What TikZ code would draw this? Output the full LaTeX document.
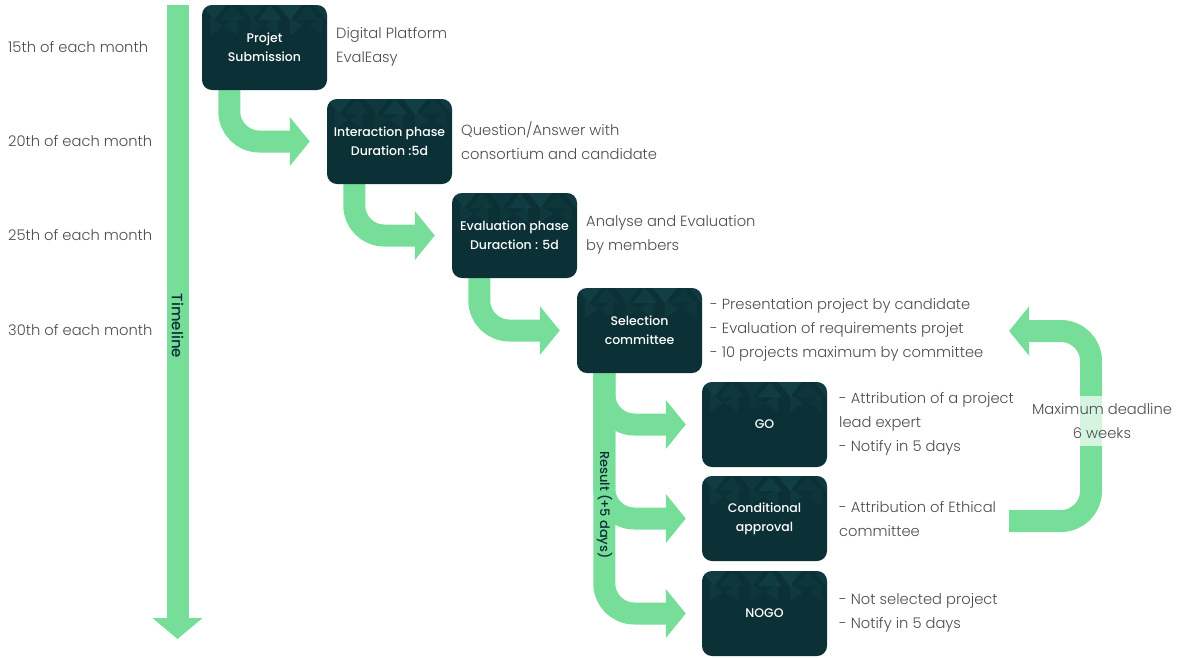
\documentclass[tikz,border=0pt]{standalone}
\usepackage{fontspec}
\setmainfont{Poppins}
\newfontfamily\lightfont{Poppins Light}
\newfontfamily\medfont{Poppins Medium}
\usetikzlibrary{arrows.meta,calc}
\definecolor{mint}{HTML}{77DE99}
\definecolor{deep}{HTML}{0B3136}
\definecolor{facet}{HTML}{1D5459}
\definecolor{note}{HTML}{4D4D4D}
\pgfdeclarelayer{bg}
\pgfsetlayers{bg,main}

\begin{document}
\begin{tikzpicture}[x=1pt,y=-1pt,
  facets/.pic={
    \begin{scope}[sharp corners]
    \foreach \x/\o in {0/.35,38/.2,76/.4,112/.25}
      \fill[facet,opacity=\o] (\x,0) -- (\x+24,0) -- (\x+12,15) -- cycle;
    \foreach \x/\o in {18/.18,56/.3,94/.15}
      \fill[facet,opacity=\o] (\x,15) -- (\x+12,0) -- (\x+24,15) -- cycle;
    \foreach \x/\o in {8/.22,48/.15,88/.25}
      \fill[facet,opacity=\o] (\x,12) -- (\x,30) -- (\x+13,21) -- cycle;
    \foreach \x/\o in {36/.18,76/.22,120/.15}
      \fill[facet,opacity=\o] (\x,12) -- (\x,30) -- (\x-13,21) -- cycle;
    \end{scope}
  },
  stepbox/.style={fill=deep, rounded corners=10pt, minimum width=125pt,
    minimum height=85pt, inner sep=0pt, text=white, align=center,
    font=\medfont\fontsize{12.5}{19}\selectfont,
    path picture={\pic at (path picture bounding box.north west) {facets};}},
  note/.style={anchor=west, align=left, text=note, inner sep=0pt,
    font=\lightfont\fontsize{14.7}{24}\selectfont},
  flow/.style={draw=mint, line width=22pt, rounded corners=30pt,
    -{Triangle[length=20pt,width=48pt]}},
  bandlabel/.style={rotate=-90, text=deep, inner sep=0pt,
    font=\medfont\fontsize{13}{16}\selectfont}]

\useasboundingbox (0,0) rectangle (1177,657);

% process boxes
\node[stepbox] (s1) at (264.5,47.5) {Projet\\Submission};
\node[stepbox] (s2) at (389.5,141.5) {Interaction phase\\Duration :5d};
\node[stepbox] (s3) at (514.5,235.5) {Evaluation phase\\Duraction : 5d};
\node[stepbox] (s4) at (639.5,330.5) {Selection\\committee};
\node[stepbox] (go) at (764.5,424.5) {GO};
\node[stepbox] (cond) at (764.5,518.5) {Conditional\\approval};
\node[stepbox] (nogo) at (764.5,613.5) {NOGO};

% dates on the left
\node[note] (d1) at (8,47) {15th of each month};
\node[note] (d2) at (8,141) {20th of each month};
\node[note] (d3) at (8,235) {25th of each month};
\node[note] (d4) at (8,330) {30th of each month};

% notes beside the boxes
\node[note] (n1) at (336,47) {Digital Platform\\EvalEasy};
\node[note] (n2) at (461,141) {Question/Answer with\\consortium and candidate};
\node[note] (n3) at (586,235) {Analyse and Evaluation\\by members};
\node[note] (n4) at (710,330) {- Presentation project by candidate\\- Evaluation of requirements projet\\- 10 projects maximum by committee};
\node[note] (ngo) at (839,424) {- Attribution of a project\\lead expert\\- Notify in 5 days};
\node[note] (ncond) at (839,519) {- Attribution of Ethical\\committee};
\node[note] (nnogo) at (839,613) {- Not selected project\\- Notify in 5 days};

% timeline and loop end points
\coordinate (tl-top) at (177.5,5);
\coordinate (tl-end) at (177.5,639);
\coordinate (loop-start) at (1009,521);
\coordinate (loop-end) at (1009,331);
\coordinate (trunk) at ($(s4.south west)+(27.5,0)$);

\begin{pgfonlayer}{bg}
  \draw[flow,-{Triangle[length=21pt,width=49pt]}] (tl-top) -- (tl-end);
  \draw[flow] ($(s1.south west)+(27.5,0)$) |- ($(s2.west)+(-17,0)$);
  \draw[flow] ($(s2.south west)+(27.5,0)$) |- ($(s3.west)+(-17,0)$);
  \draw[flow] ($(s3.south west)+(27.5,0)$) |- ($(s4.west)+(-17,0)$);
  \draw[flow] (trunk) |- ($(go.west)+(-16,0)$);
  \draw[flow] (trunk) |- ($(cond.west)+(-16,0)$);
  \draw[flow] (trunk) |- ($(nogo.west)+(-16,0)$);
  \draw[flow] (loop-start) -- (1091,521) -- (1091,331) -- (loop-end);
\end{pgfonlayer}

\node[bandlabel, font=\medfont\fontsize{15}{18}\selectfont] (tl-label)
  at (177.5,326) {Timeline};
\node[bandlabel] (res-label) at (604.5,505) {Result (\kern-1.5pt+5 days)};
\node[note, anchor=center, align=center, fill=white, fill opacity=0.7,
  text opacity=1, minimum height=50pt, inner xsep=2pt] (deadline)
  at (1102,421) {Maximum deadline\\6 weeks};
\end{tikzpicture}
\end{document}
